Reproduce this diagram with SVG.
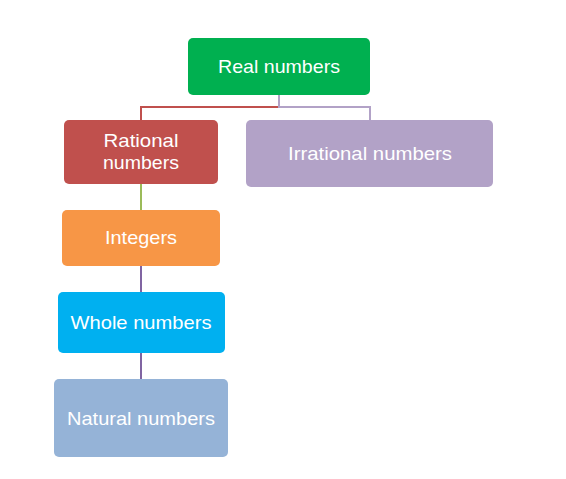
<svg xmlns="http://www.w3.org/2000/svg" width="566" height="479" viewBox="0 0 566 479">
<style>
text{font-family:"Liberation Sans",Arial,sans-serif;font-size:19px;fill:#fff;text-anchor:middle}
.c{fill:none;stroke-width:2}
</style>
<rect width="566" height="479" fill="#fff"/>
<g id="connectors">
<path class="c" d="M279 95V107H141V120" stroke="#C0504D"/>
<path class="c" d="M279 95V107H370V120" stroke="#B2A2C7"/>
<path class="c" d="M141 184V210" stroke="#9BBB59"/>
<path class="c" d="M141 266V292" stroke="#8064A2"/>
<path class="c" d="M141 353V379" stroke="#8064A2"/>
</g>
<g id="real"><rect x="188" y="38" width="182" height="57" rx="5" fill="#00B050"/><text x="279" y="73" textLength="122" lengthAdjust="spacingAndGlyphs">Real numbers</text></g>
<g id="rational"><rect x="64" y="120" width="154" height="64" rx="5" fill="#C0504D"/><text x="141" y="147" textLength="75" lengthAdjust="spacingAndGlyphs">Rational</text><text x="141" y="169" textLength="76" lengthAdjust="spacingAndGlyphs">numbers</text></g>
<g id="irrational"><rect x="246" y="120" width="247" height="67" rx="5" fill="#B2A2C7"/><text x="370" y="160" textLength="164" lengthAdjust="spacingAndGlyphs">Irrational numbers</text></g>
<g id="integers"><rect x="62" y="210" width="158" height="56" rx="5" fill="#F79646"/><text x="141" y="244" textLength="72" lengthAdjust="spacingAndGlyphs">Integers</text></g>
<g id="whole"><rect x="58" y="292" width="167" height="61" rx="5" fill="#00B0F0"/><text x="141" y="329" textLength="141" lengthAdjust="spacingAndGlyphs">Whole numbers</text></g>
<g id="natural"><rect x="54" y="379" width="174" height="78" rx="5" fill="#95B3D7"/><text x="141" y="425" textLength="148" lengthAdjust="spacingAndGlyphs">Natural numbers</text></g>
</svg>
